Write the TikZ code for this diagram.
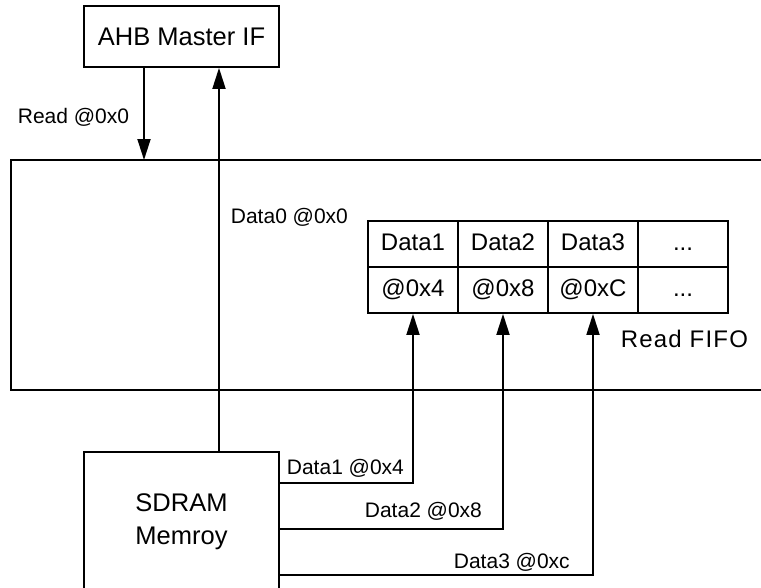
\documentclass[tikz,border=0pt]{standalone}
\usepackage{fontspec}
\setmainfont{Liberation Sans}
\usetikzlibrary{arrows.meta}
\begin{document}
\begin{tikzpicture}[x=1pt,y=-1pt, line width=1.8pt,
  box/.style={draw, minimum width=195pt, inner sep=0pt, font=\fontsize{25.5}{33}\selectfont, align=center},
  cell/.style={draw, minimum width=90pt, minimum height=46pt, inner sep=0pt, text height=17pt, text depth=5pt, font=\fontsize{24}{28}\selectfont},
  lbl/.style={font=\fontsize{21}{25}\selectfont, inner sep=0pt, anchor=base west},
  arr/.style={-{Triangle[length=21pt,width=13pt]}}]
\useasboundingbox (0,0) rectangle (761,587);
\clip (0,0) rectangle (761,587);
% region
\draw (780,160) -- (11,160) -- (11,390) -- (780,390);
\coordinate (rtop) at (144,160);
% boxes
\node[box, minimum height=61pt] (ahb) at (181.5,36.5) {AHB Master IF};
\node[box, minimum height=140pt] (sdram) at (181.5,522) {SDRAM\\Memroy};
% FIFO table
\node[cell] (c11) at (413,244) {Data1};
\node[cell] (c12) at (503,244) {Data2};
\node[cell] (c13) at (593,244) {Data3};
\node[cell] (c14) at (683,244) {...};
\node[cell] (c21) at (413,290) {@0x4};
\node[cell] (c22) at (503,290) {@0x8};
\node[cell] (c23) at (593,290) {@0xC};
\node[cell] (c24) at (683,290) {...};
\node[font=\fontsize{24}{28}\selectfont\addfontfeature{LetterSpace=5}, inner sep=0pt, anchor=base west] (fifo) at (620,347) {Read FIFO};
% connectors
\draw[arr] (ahb.south -| rtop) -- (rtop);
\node[lbl] (lread) at (17,123) {Read @0x0};
\draw[arr] ([xshift=37.5pt]sdram.north) -- ([xshift=37.5pt]ahb.south);
\node[lbl] (ld0) at (230,223) {Data0 @0x0};
\draw[arr] ([yshift=39pt]sdram.east) -| (c21.south);
\node[lbl] (ld1) at (286,474) {Data1 @0x4};
\draw[arr] ([yshift=-7pt]sdram.east) -| (c22.south);
\node[lbl] (ld2) at (364,517) {Data2 @0x8};
\draw[arr] ([yshift=-53pt]sdram.east) -| (c23.south);
\node[lbl] (ld3) at (453,568) {Data3 @0xc};
\end{tikzpicture}
\end{document}
